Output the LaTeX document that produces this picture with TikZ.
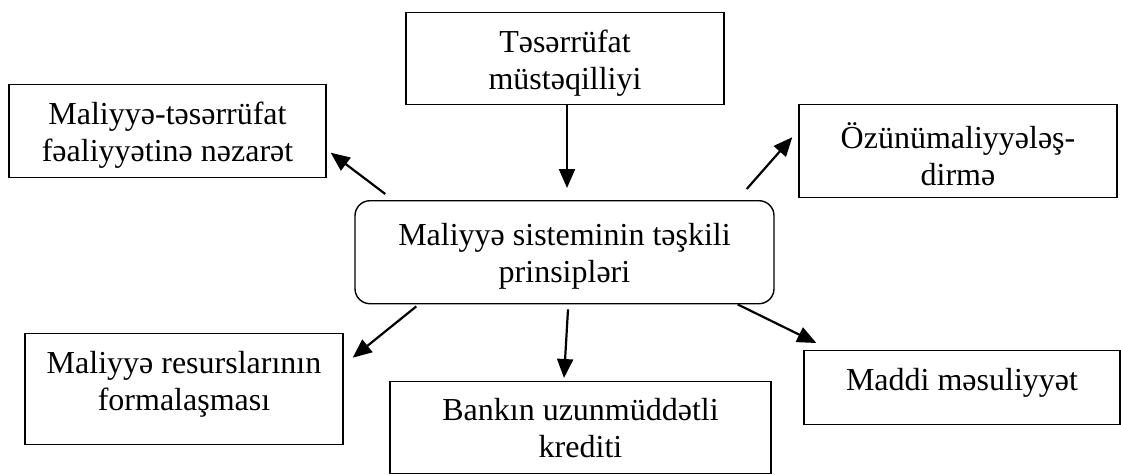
\documentclass[tikz,border=0pt]{standalone}
\usepackage{fontspec}
\setmainfont{Liberation Serif}
\usetikzlibrary{arrows.meta,calc}

% two centred lines whose reference point is the first baseline
\newcommand{\twoline}[2]{\begin{tabular}[t]{@{}c@{}}#1\\#2\end{tabular}}

\tikzset{
  box/.style={draw, line width=1.4pt, inner sep=0pt, anchor=north,
              font=\fontsize{32}{36.8}\selectfont},
  hub/.style={box, rounded corners=15pt},
  arr/.style={line width=2.2pt, -{Triangle[length=19pt,width=16pt]}}
}

\begin{document}
\begin{tikzpicture}[x=1pt, y=-1pt]
\useasboundingbox (0,0) rectangle (1121,474);

% boxes: top edge, width, first baseline (text height) and the rest (text depth)
\node[box, minimum width=318pt, text height=40pt, text depth=52pt]
  (top) at (565,12) {\twoline{Təsərrüfat}{müstəqilliyi}};
\node[box, minimum width=317pt, text height=40pt, text depth=53pt]
  (lt) at (167.5,84) {\twoline{Maliyyə-təsərrüfat}{fəaliyyətinə nəzarət}};
\node[box, minimum width=318pt, text height=44pt, text depth=49pt]
  (rt) at (958,104) {\twoline{Özünümaliyyələş-}{dirmə}};
\node[hub, minimum width=419pt, text height=45pt, text depth=58pt]
  (ctr) at (564.5,200) {\twoline{Maliyyə sisteminin təşkili}{prinsipləri}};
\node[box, minimum width=318pt, text height=40pt, text depth=71pt]
  (lb) at (184,333) {\twoline{Maliyyə resurslarının}{formalaşması}};
\node[box, minimum width=381pt, text height=39pt, text depth=53pt]
  (bk) at (580.5,381) {\twoline{Bankın uzunmüddətli}{krediti}};
\node[box, minimum width=316pt, text height=40pt, text depth=34pt]
  (rb) at (962,350) {Maddi məsuliyyət};

% connectors
\draw[arr] ($(top.south)+(2,0)$) -- ($(ctr.north)+(2.5,-12)$);
\draw[arr] ($(ctr.north west)+(31,-6)$) -- ($(lt.east)+(4,21.5)$);
\draw[arr] ($(ctr.north east)+(-28,-11)$) -- ($(rt.west)+(-6,-14)$);
\draw[arr] ($(ctr.south west)+(62,2)$) -- ($(lb.east)+(9,-31.5)$);
\draw[arr] ($(ctr.south)+(3.5,5)$) -- ($(bk.north)+(-16.5,-3)$);
\draw[arr] ($(ctr.south east)+(-37,0)$) -- ($(rb.north west)+(13,-7)$);
\end{tikzpicture}
\end{document}
